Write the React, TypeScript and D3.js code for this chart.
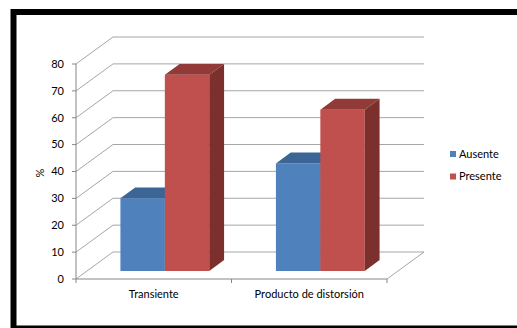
import React from "react";
import * as d3 from "d3";

const categories = ["Transiente", "Producto de distorsión"];
const seriesNames = ["Ausente", "Presente"];
const ausente = [27, 40];
const presente = [73, 60];
const yTicks = [0, 10, 20, 30, 40, 50, 60, 70, 80];
const yLabel = "%";

const colors = {
  Ausente: { front: "#4F81BD", top: "#3B6595", side: "#365D8A" },
  Presente: { front: "#C0504D", top: "#923A38", side: "#7B302E" },
};

export default function App() {
  const W = 517, H = 328;
  const x0 = 76, x1 = 387;
  const DX = 37, DY = -27;
  const d0 = 0.3, d1 = 0.7;
  const y = d3.scaleLinear().domain([0, 80]).range([279, 64]);
  const x = d3.scaleBand<string>().domain(categories).range([x0, x1]).padding(0);
  const xs = d3.scaleBand<string>().domain(seriesNames).range([0, x.bandwidth()]).paddingInner(0).paddingOuter(0.75);
  const P = (px: number, py: number, d: number): [number, number] => [px + d * DX, py + d * DY];
  const poly = (pts: [number, number][]) => pts.map((p) => p.join(",")).join(" ");
  const values: Record<string, number[]> = { Ausente: ausente, Presente: presente };
  const grid = "#A6A6A6";
  const axis = "#868686";
  const font = "Lato, 'Open Sans', sans-serif";

  const bars: React.ReactNode[] = [];
  categories.forEach((c, ci) => {
    seriesNames.forEach((s) => {
      const v = values[s][ci];
      const xl = (x(c) as number) + (xs(s) as number);
      const w = xs.bandwidth();
      const col = (colors as any)[s];
      const yt = y(v), yb = y(0);
      bars.push(
        <g key={c + s}>
          <polygon points={poly([P(xl, yt, d0), P(xl + w, yt, d0), P(xl + w, yb, d0), P(xl, yb, d0)])} fill={col.front} />
          <polygon points={poly([P(xl, yt, d0), P(xl + w, yt, d0), P(xl + w, yt, d1), P(xl, yt, d1)])} fill={col.top} />
          <polygon points={poly([P(xl + w, yt, d0), P(xl + w, yt, d1), P(xl + w, yb, d1), P(xl + w, yb, d0)])} fill={col.side} />
        </g>
      );
    });
  });

  return (
    <svg width={W} height={H} style={{ position: "absolute", left: 0, top: 0, background: "#fff" }} fontFamily={font}>
      <rect x={0} y={0} width={W} height={H} fill="#fff" />
      {/* back wall gridlines */}
      {yTicks.map((t) => {
        const a = P(x0, y(t), 1), b = P(x1, y(t), 1);
        return <line key={"g" + t} x1={a[0]} y1={a[1]} x2={b[0]} y2={b[1]} stroke={grid} strokeWidth={1} />;
      })}
      {/* side wall diagonals */}
      {yTicks.map((t) => {
        const a = P(x0, y(t), 0), b = P(x0, y(t), 1);
        return <line key={"s" + t} x1={a[0]} y1={a[1]} x2={b[0]} y2={b[1]} stroke={grid} strokeWidth={1} />;
      })}
      {/* floor right edge */}
      {(() => {
        const a = P(x1, y(0), 0), b = P(x1, y(0), 1);
        return <line x1={a[0]} y1={a[1]} x2={b[0]} y2={b[1]} stroke={grid} strokeWidth={1} />;
      })()}
      {/* y axis */}
      <line x1={x0} y1={y(0)} x2={x0} y2={y(80)} stroke={axis} strokeWidth={1} />
      {yTicks.map((t) => (
        <g key={"yt" + t}>
          <line x1={x0 - 4} y1={y(t)} x2={x0} y2={y(t)} stroke={axis} />
          <text x={64} y={y(t)} dy="0.35em" textAnchor="end" fontSize={11} fill="#000">{t}</text>
        </g>
      ))}
      {/* x axis */}
      <line x1={x0} y1={y(0)} x2={x1} y2={y(0)} stroke={axis} strokeWidth={1} />
      {[x0, ...categories.map((c) => (x(c) as number) + x.bandwidth())].map((tx, i) => (
        <line key={"xt" + i} x1={tx} y1={y(0)} x2={tx} y2={y(0) + 4} stroke={axis} />
      ))}
      {categories.map((c) => (
        <text key={"xl" + c} x={(x(c) as number) + x.bandwidth() / 2} y={298} textAnchor="middle" fontSize={11} fill="#000">{c}</text>
      ))}
      {bars}
      <text transform={`translate(44,173) rotate(-90)`} textAnchor="middle" fontSize={11} fill="#000">{yLabel}</text>
      {/* legend */}
      {seriesNames.map((s, i) => (
        <g key={"lg" + s} transform={`translate(450,${154 + i * 22.5})`}>
          <rect x={0} y={-3} width={6} height={6} fill={(colors as any)[s].front} />
          <text x={9} y={0} dy="0.35em" fontSize={11} fill="#000">{s}</text>
        </g>
      ))}
      {/* frame */}
      <path d={`M${W + 10},12 H13.5 V${H + 0.5} H${W + 10}`} fill="none" stroke="#000" strokeWidth={6} />
    </svg>
  );
}
